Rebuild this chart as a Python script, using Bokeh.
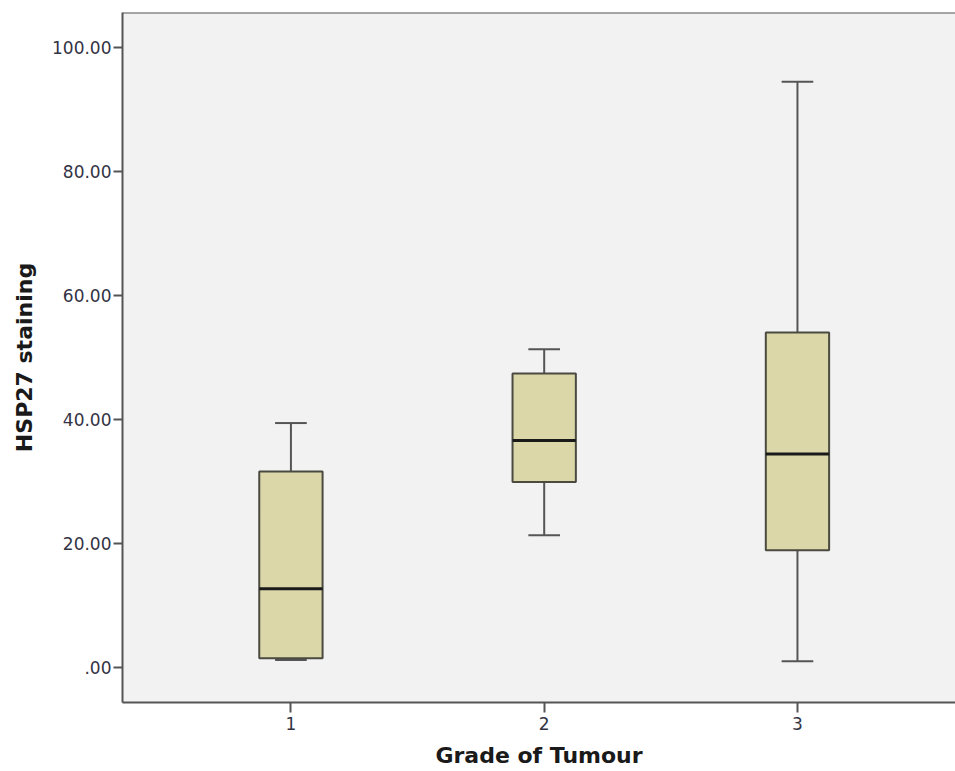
from bokeh.plotting import figure
from bokeh.models import Range1d, FixedTicker, Span
from bokeh.embed import file_html
from bokeh.resources import INLINE

# Box-plot summary of HSP27 staining by tumour grade
grades = [1, 2, 3]
grade_labels = ["1", "2", "3"]
whisker_low = [1.2, 21.3, 1.0]
q1 = [1.5, 29.9, 18.9]
median = [12.7, 36.6, 34.4]
q3 = [31.6, 47.4, 54.0]
whisker_high = [39.4, 51.3, 94.4]

y_ticks = [0, 20, 40, 60, 80, 100]
y_tick_labels = [".00", "20.00", "40.00", "60.00", "80.00", "100.00"]

BOX_W = 0.25
CAP_W = 0.125
EDGE = "#555555"
FONT = "DejaVu Sans"

p = figure(
    width=955, height=771,
    x_range=Range1d(0.335, 3.624),
    y_range=Range1d(-5.64, 105.57),
    output_backend="svg", toolbar_location=None,
    min_border_left=122, min_border_right=0,
    min_border_top=12, min_border_bottom=69,
)
p.background_fill_color = "#f2f2f2"
p.border_fill_color = "white"
p.outline_line_color = None
p.grid.visible = False

# whiskers
p.segment(x0=grades, y0=q3, x1=grades, y1=whisker_high, line_color=EDGE, line_width=2)
p.segment(x0=grades, y0=whisker_low, x1=grades, y1=q1, line_color=EDGE, line_width=2)
cap_left = [g - CAP_W / 2 for g in grades]
cap_right = [g + CAP_W / 2 for g in grades]
p.segment(x0=cap_left, y0=whisker_high, x1=cap_right, y1=whisker_high, line_color=EDGE, line_width=2)
p.segment(x0=cap_left, y0=whisker_low, x1=cap_right, y1=whisker_low, line_color=EDGE, line_width=2)

# boxes
p.vbar(x=grades, width=BOX_W, bottom=q1, top=q3,
       fill_color="#dbd7a8", line_color="#4a4a40", line_width=2)

# medians
box_left = [g - BOX_W / 2 for g in grades]
box_right = [g + BOX_W / 2 for g in grades]
p.segment(x0=box_left, y0=median, x1=box_right, y1=median, line_color="#1a1a1a", line_width=3)

# top frame edge
p.add_layout(Span(location=105.57, dimension="width", line_color=EDGE, line_width=2))

# axes
p.xaxis.ticker = FixedTicker(ticks=grades)
p.xaxis.major_label_overrides = {g: lab for g, lab in zip(grades, grade_labels)}
p.yaxis.ticker = FixedTicker(ticks=y_ticks)
p.yaxis.major_label_overrides = {t: lab for t, lab in zip(y_ticks, y_tick_labels)}

for ax in (p.xaxis[0], p.yaxis[0]):
    ax.axis_line_color = EDGE
    ax.axis_line_width = 2
    ax.major_tick_line_color = EDGE
    ax.major_tick_line_width = 2
    ax.major_tick_in = 0
    ax.minor_tick_line_color = None
    ax.major_label_text_font = FONT
    ax.major_label_text_font_size = "17px"
    ax.major_label_text_color = "#333344"
    ax.axis_label_text_font = FONT
    ax.axis_label_text_font_style = "bold"
    ax.axis_label_text_font_size = "22px"
    ax.axis_label_text_color = "#1a1a1a"

p.xaxis.major_tick_out = 10
p.xaxis.major_label_standoff = 4
p.xaxis.axis_label = "Grade of Tumour"
p.xaxis.axis_label_standoff = 10

p.yaxis.major_tick_out = 9
p.yaxis.major_label_standoff = 2
p.yaxis.axis_label = "HSP27 staining"
p.yaxis.axis_label_standoff = 12

open("out.html", "w").write(file_html(p, INLINE))
